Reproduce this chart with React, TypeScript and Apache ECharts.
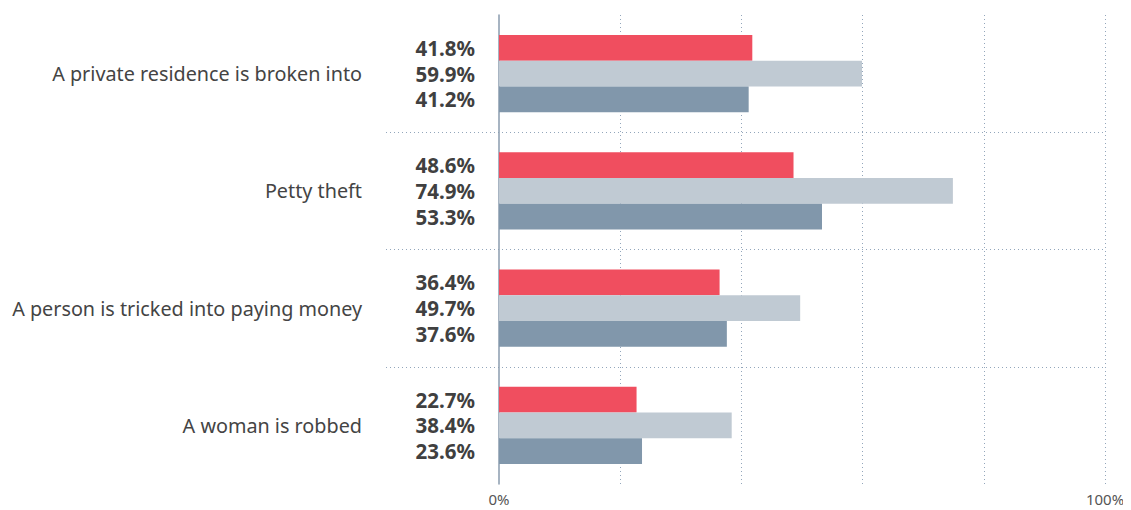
import React, { useEffect, useRef } from "react";
import * as echarts from "echarts";

const categories = [
  "A private residence is broken into",
  "Petty theft",
  "A person is tricked into paying money",
  "A woman is robbed",
];
const seriesNames = ["Group 1", "Group 2", "Group 3"];
const seriesA = [41.8, 48.6, 36.4, 22.7];
const seriesB = [59.9, 74.9, 49.7, 38.4];
const seriesC = [41.2, 53.3, 37.6, 23.6];
const colors = ["#F04E5F", "#C0CAD3", "#8197AB"];
const FONT = "'Source Sans Pro', 'Noto Sans', sans-serif";

export default function App() {
  const ref = useRef<HTMLDivElement>(null);
  useEffect(() => {
    if (!ref.current) return;
    const chart = echarts.init(ref.current, undefined, { renderer: "svg" });
    const dotted = { color: "#93A6BB", type: [1, 3] as any, width: 1 };
    const mkSeries = (name: string, data: number[], color: string) => ({
      type: "bar",
      name,
      data,
      xAxisIndex: 0,
      yAxisIndex: 0,
      barGap: "0%",
      barCategoryGap: "34%",
      itemStyle: { color },
      label: {
        show: true,
        position: "left",
        distance: 24,
        formatter: "{c}%",
        fontFamily: FONT,
        fontWeight: "bold",
        fontSize: 20.5,
        color: "#404040",
      },
    });
    chart.setOption({
      animation: false,
      textStyle: { fontFamily: FONT },
      grid: [
        { left: 499, right: 26, top: 15, bottom: 26 },
        { left: 386, right: 26, top: 15, bottom: 26 },
      ],
      xAxis: [
        {
          type: "value",
          gridIndex: 0,
          min: 0,
          max: 100,
          interval: 20,
          axisLine: { show: false },
          axisTick: { show: false },
          splitLine: { show: true, lineStyle: dotted, showMinLine: false },
          axisLabel: {
            margin: 7,
            fontSize: 15,
            color: "#555",
            fontFamily: FONT,
            formatter: (v: number) => (v === 0 || v === 100 ? v + "%" : ""),
          },
        },
        { type: "value", gridIndex: 1, show: false, min: 0, max: 100 },
      ],
      yAxis: [
        {
          type: "category",
          gridIndex: 0,
          data: categories,
          inverse: true,
          axisLine: { show: true, lineStyle: { color: "#8A9BAE", width: 1.5 } },
          axisTick: { show: false },
          splitLine: { show: false },
          axisLabel: {
            margin: 137,
            fontSize: 19.8,
            color: "#444",
            fontFamily: FONT,
          },
        },
        {
          type: "category",
          gridIndex: 1,
          data: categories,
          inverse: true,
          axisLine: { show: false },
          axisTick: { show: false },
          axisLabel: { show: false },
          splitLine: {
            show: true,
            showMinLine: false,
            showMaxLine: false,
            lineStyle: dotted,
          },
        },
      ],
      series: [
        mkSeries(seriesNames[0], seriesA, colors[0]),
        mkSeries(seriesNames[1], seriesB, colors[1]),
        mkSeries(seriesNames[2], seriesC, colors[2]),
      ],
    });
    return () => chart.dispose();
  }, []);
  return <div ref={ref} style={{ width: 1131, height: 510, marginLeft: -8, marginTop: -8 }} />;
}
